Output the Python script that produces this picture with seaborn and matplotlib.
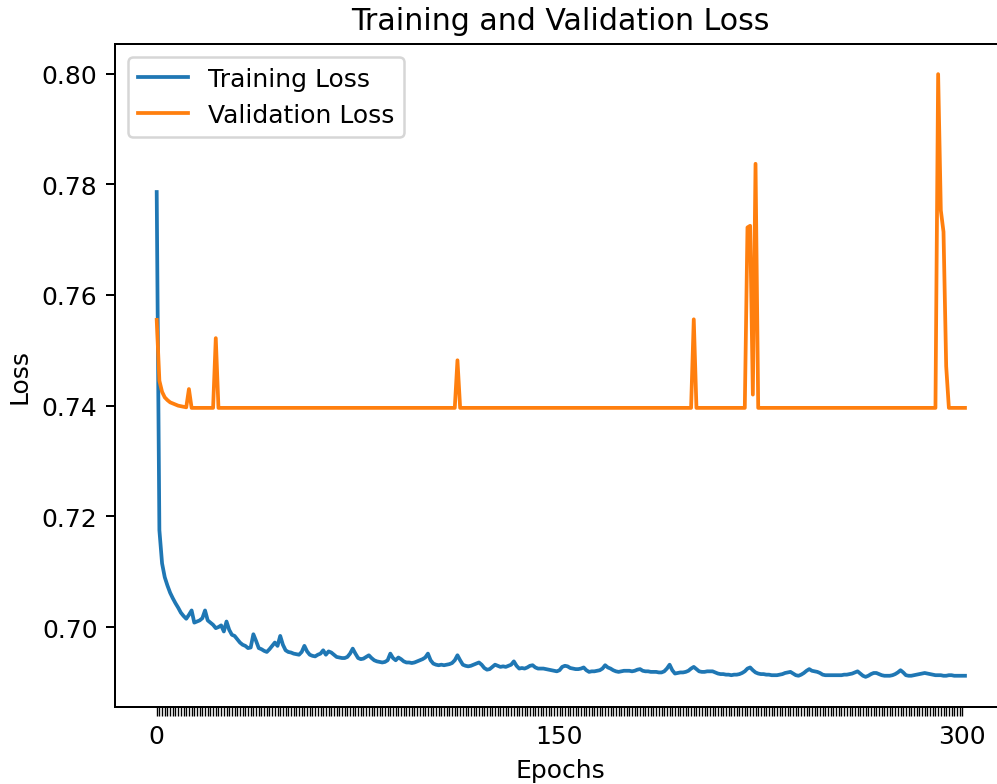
import numpy as np
import pandas as pd
import matplotlib
matplotlib.use("Agg")
import matplotlib.pyplot as plt
import seaborn as sns

training_loss = [
    0.7786, 0.7175, 0.7115, 0.7090, 0.7075, 0.7062, 0.7052, 0.7043, 0.7035, 0.7026,
    0.7020, 0.7015, 0.7022, 0.7030, 0.7008, 0.7010, 0.7012, 0.7016, 0.7030, 0.7012,
    0.7008, 0.7004, 0.6998, 0.7000, 0.7003, 0.6992, 0.7010, 0.6995, 0.6986, 0.6984,
    0.6978, 0.6972, 0.6968, 0.6966, 0.6962, 0.6963, 0.6987, 0.6975, 0.6962, 0.6960,
    0.6957, 0.6955, 0.6960, 0.6966, 0.6972, 0.6966, 0.6984, 0.6968, 0.6958, 0.6955,
    0.6954, 0.6952, 0.6951, 0.6950, 0.6955, 0.6966, 0.6956, 0.6950, 0.6948, 0.6947,
    0.6950, 0.6952, 0.6958, 0.6950, 0.6956, 0.6954, 0.6950, 0.6946, 0.6945, 0.6944,
    0.6944, 0.6946, 0.6952, 0.6961, 0.6952, 0.6944, 0.6942, 0.6943, 0.6946, 0.6949,
    0.6944, 0.6940, 0.6938, 0.6937, 0.6936, 0.6937, 0.6940, 0.6952, 0.6944, 0.6940,
    0.6945, 0.6942, 0.6938, 0.6936, 0.6936, 0.6935, 0.6936, 0.6938, 0.6940, 0.6942,
    0.6945, 0.6952, 0.6940, 0.6934, 0.6932, 0.6931, 0.6932, 0.6931, 0.6932, 0.6933,
    0.6935, 0.6940, 0.6949, 0.6940, 0.6932, 0.6930, 0.6929, 0.6930, 0.6932, 0.6934,
    0.6936, 0.6932, 0.6926, 0.6923, 0.6924, 0.6928, 0.6932, 0.6930, 0.6928, 0.6929,
    0.6928, 0.6930, 0.6932, 0.6938, 0.6930, 0.6925, 0.6926, 0.6925, 0.6927, 0.6930,
    0.6931, 0.6927, 0.6925, 0.6925, 0.6925, 0.6924, 0.6923, 0.6922, 0.6921, 0.6920,
    0.6922, 0.6928, 0.6930, 0.6929, 0.6926, 0.6925, 0.6924, 0.6924, 0.6925, 0.6927,
    0.6922, 0.6919, 0.6920, 0.6920, 0.6921, 0.6922, 0.6925, 0.6931, 0.6927, 0.6925,
    0.6922, 0.6920, 0.6919, 0.6920, 0.6921, 0.6921, 0.6921, 0.6920, 0.6921, 0.6923,
    0.6924, 0.6921, 0.6920, 0.6920, 0.6919, 0.6919, 0.6919, 0.6918, 0.6918, 0.6920,
    0.6925, 0.6932, 0.6922, 0.6916, 0.6917, 0.6918, 0.6918, 0.6919, 0.6921, 0.6925,
    0.6928, 0.6924, 0.6920, 0.6919, 0.6919, 0.6920, 0.6920, 0.6920, 0.6918, 0.6916,
    0.6915, 0.6915, 0.6914, 0.6914, 0.6913, 0.6914, 0.6914, 0.6915, 0.6917, 0.6920,
    0.6925, 0.6927, 0.6922, 0.6918, 0.6916, 0.6915, 0.6915, 0.6914, 0.6914, 0.6913,
    0.6913, 0.6913, 0.6914, 0.6915, 0.6917, 0.6918, 0.6919, 0.6916, 0.6913, 0.6912,
    0.6914, 0.6917, 0.6921, 0.6924, 0.6921, 0.6920, 0.6919, 0.6917, 0.6914, 0.6913,
    0.6913, 0.6913, 0.6913, 0.6913, 0.6913, 0.6913, 0.6914, 0.6914, 0.6915, 0.6916,
    0.6918, 0.6920, 0.6916, 0.6912, 0.6910, 0.6912, 0.6915, 0.6917, 0.6917, 0.6915,
    0.6913, 0.6912, 0.6912, 0.6912, 0.6913, 0.6915, 0.6918, 0.6922, 0.6918, 0.6913,
    0.6912, 0.6912, 0.6913, 0.6914, 0.6915, 0.6916, 0.6917, 0.6916, 0.6915, 0.6914,
    0.6913, 0.6913, 0.6913, 0.6912, 0.6912, 0.6913, 0.6913, 0.6912, 0.6912, 0.6912,
    0.6912, 0.6912,
]

validation_loss = [
    0.7555, 0.7445, 0.7425, 0.7415, 0.7410, 0.7406, 0.7404, 0.7402, 0.7400, 0.7399,
    0.7398, 0.7397, 0.7430, 0.7396, 0.7396, 0.7396, 0.7396, 0.7396, 0.7396, 0.7396,
    0.7396, 0.7396, 0.7522, 0.7396, 0.7396, 0.7396, 0.7396, 0.7396, 0.7396, 0.7396,
    0.7396, 0.7396, 0.7396, 0.7396, 0.7396, 0.7396, 0.7396, 0.7396, 0.7396, 0.7396,
    0.7396, 0.7396, 0.7396, 0.7396, 0.7396, 0.7396, 0.7396, 0.7396, 0.7396, 0.7396,
    0.7396, 0.7396, 0.7396, 0.7396, 0.7396, 0.7396, 0.7396, 0.7396, 0.7396, 0.7396,
    0.7396, 0.7396, 0.7396, 0.7396, 0.7396, 0.7396, 0.7396, 0.7396, 0.7396, 0.7396,
    0.7396, 0.7396, 0.7396, 0.7396, 0.7396, 0.7396, 0.7396, 0.7396, 0.7396, 0.7396,
    0.7396, 0.7396, 0.7396, 0.7396, 0.7396, 0.7396, 0.7396, 0.7396, 0.7396, 0.7396,
    0.7396, 0.7396, 0.7396, 0.7396, 0.7396, 0.7396, 0.7396, 0.7396, 0.7396, 0.7396,
    0.7396, 0.7396, 0.7396, 0.7396, 0.7396, 0.7396, 0.7396, 0.7396, 0.7396, 0.7396,
    0.7396, 0.7396, 0.7482, 0.7396, 0.7396, 0.7396, 0.7396, 0.7396, 0.7396, 0.7396,
    0.7396, 0.7396, 0.7396, 0.7396, 0.7396, 0.7396, 0.7396, 0.7396, 0.7396, 0.7396,
    0.7396, 0.7396, 0.7396, 0.7396, 0.7396, 0.7396, 0.7396, 0.7396, 0.7396, 0.7396,
    0.7396, 0.7396, 0.7396, 0.7396, 0.7396, 0.7396, 0.7396, 0.7396, 0.7396, 0.7396,
    0.7396, 0.7396, 0.7396, 0.7396, 0.7396, 0.7396, 0.7396, 0.7396, 0.7396, 0.7396,
    0.7396, 0.7396, 0.7396, 0.7396, 0.7396, 0.7396, 0.7396, 0.7396, 0.7396, 0.7396,
    0.7396, 0.7396, 0.7396, 0.7396, 0.7396, 0.7396, 0.7396, 0.7396, 0.7396, 0.7396,
    0.7396, 0.7396, 0.7396, 0.7396, 0.7396, 0.7396, 0.7396, 0.7396, 0.7396, 0.7396,
    0.7396, 0.7396, 0.7396, 0.7396, 0.7396, 0.7396, 0.7396, 0.7396, 0.7396, 0.7396,
    0.7556, 0.7396, 0.7396, 0.7396, 0.7396, 0.7396, 0.7396, 0.7396, 0.7396, 0.7396,
    0.7396, 0.7396, 0.7396, 0.7396, 0.7396, 0.7396, 0.7396, 0.7396, 0.7396, 0.7396,
    0.7722, 0.7725, 0.7420, 0.7837, 0.7396, 0.7396, 0.7396, 0.7396, 0.7396, 0.7396,
    0.7396, 0.7396, 0.7396, 0.7396, 0.7396, 0.7396, 0.7396, 0.7396, 0.7396, 0.7396,
    0.7396, 0.7396, 0.7396, 0.7396, 0.7396, 0.7396, 0.7396, 0.7396, 0.7396, 0.7396,
    0.7396, 0.7396, 0.7396, 0.7396, 0.7396, 0.7396, 0.7396, 0.7396, 0.7396, 0.7396,
    0.7396, 0.7396, 0.7396, 0.7396, 0.7396, 0.7396, 0.7396, 0.7396, 0.7396, 0.7396,
    0.7396, 0.7396, 0.7396, 0.7396, 0.7396, 0.7396, 0.7396, 0.7396, 0.7396, 0.7396,
    0.7396, 0.7396, 0.7396, 0.7396, 0.7396, 0.7396, 0.7396, 0.7396, 0.7396, 0.7396,
    0.7396, 0.7999, 0.7753, 0.7714, 0.7471, 0.7396, 0.7396, 0.7396, 0.7396, 0.7396,
    0.7396, 0.7396,
]

epochs = list(range(len(training_loss)))
series_labels = ["Training Loss", "Validation Loss"]
xtick_positions = list(range(0, 301))
xtick_labeled = [0, 150, 300]

W, H = 997, 785
DPI = 180
fig = plt.figure(figsize=(W / DPI, H / DPI), dpi=DPI)

# pixel layout of the axes (right edge lies just past the image edge, as in the reference)
left_px, right_px, top_px, bottom_px = 115, 1005, 45, 708
x0_px, x300_px = 156.7, 962.3
s = (x300_px - x0_px) / 300.0
ax = fig.add_axes([left_px / W, 1 - bottom_px / H, (right_px - left_px) / W, (bottom_px - top_px) / H])

sns.lineplot(x=epochs, y=training_loss, label=series_labels[0], color="#1f77b4", linewidth=1.5, ax=ax)
sns.lineplot(x=epochs, y=validation_loss, label=series_labels[1], color="#ff7f0e", linewidth=1.5, ax=ax)

ax.set_xlim((left_px - x0_px) / s, (right_px - x0_px) / s)
ax.set_xticks(xtick_positions)
ax.set_xticklabels([str(t) if t in xtick_labeled else "" for t in xtick_positions])
ax.tick_params(axis="x", width=0.55)
ax.set_title("Training and Validation Loss", fontsize=12)
ax.set_xlabel("Epochs", fontsize=10)
ax.set_ylabel("Loss", fontsize=10)
ax.tick_params(labelsize=10)
ax.legend(loc="upper left", fontsize=10)

fig.savefig("out.png", dpi=DPI)
